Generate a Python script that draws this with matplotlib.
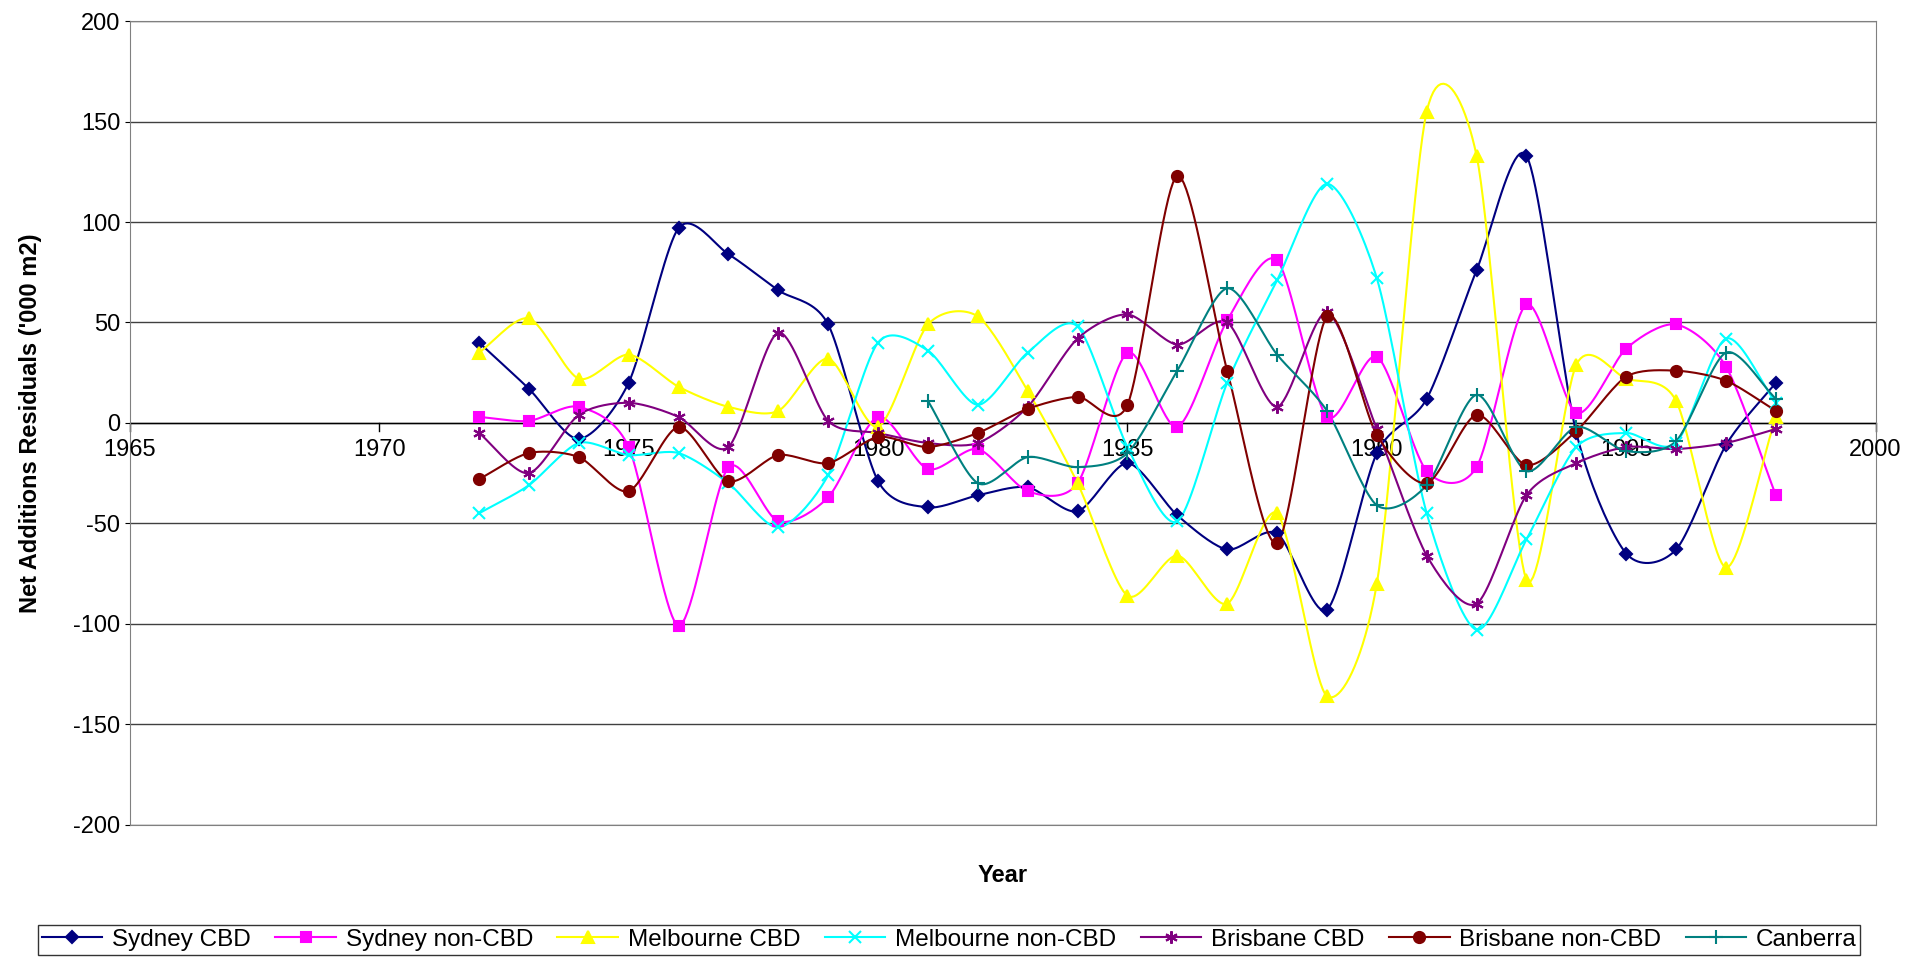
import numpy as np
import matplotlib
matplotlib.use('Agg')
import matplotlib.pyplot as plt

plt.rcParams['font.family'] = ['Liberation Sans', 'DejaVu Sans']
plt.rcParams['axes.unicode_minus'] = False

years = np.arange(1972, 1999)
syd_cbd = [40, 17, -8, 20, 97, 84, 66, 49, -29, -42, -36, -32, -44, -20, -46, -63, -55, -93, -15, 12, 76, 133, -5, -65, -63, -11, 20]
syd_non = [3, 1, 8, -12, -101, -22, -49, -37, 3, -23, -13, -34, -30, 35, -2, 51, 81, 3, 33, -24, -22, 59, 5, 37, 49, 28, -36]
mel_cbd = [35, 52, 22, 34, 18, 8, 6, 32, -2, 49, 53, 16, -30, -86, -66, -90, -45, -136, -80, 155, 133, -78, 29, 22, 11, -72, 3]
mel_non = [-45, -31, -10, -16, -15, -30, -52, -26, 40, 36, 9, 35, 48, -12, -49, 20, 71, 119, 72, -45, -103, -58, -12, -5, -10, 42, 10]
bri_cbd = [-5, -25, 4, 10, 3, -12, 45, 1, -5, -10, -10, 8, 42, 54, 39, 50, 8, 55, -3, -66, -90, -36, -20, -12, -13, -10, -3]
bri_non = [-28, -15, -17, -34, -2, -29, -16, -20, -7, -12, -5, 7, 13, 9, 123, 26, -60, 53, -6, -30, 4, -21, -4, 23, 26, 21, 6]
can_years = np.arange(1981, 1999)
canberra = [11, -30, -17, -22, -15, 26, 67, 34, 6, -41, -31, 14, -24, -2, -14, -9, 35, 12]

series = [
    ('Sydney CBD', years, syd_cbd, '#000080', 'D', 6),
    ('Sydney non-CBD', years, syd_non, '#ff00ff', 's', 7),
    ('Melbourne CBD', years, mel_cbd, '#ffff00', '^', 8),
    ('Melbourne non-CBD', years, mel_non, '#00ffff', 'x', 8),
    ('Brisbane CBD', years, bri_cbd, '#800080', (6, 2, 0), 9),
    ('Brisbane non-CBD', years, bri_non, '#800000', 'o', 8),
    ('Canberra', can_years, canberra, '#008080', '+', 10),
]


def smooth(x, y, n=20, k=0.8):
    # Catmull-Rom style curve through the points, like Excel's smoothed line
    x = np.asarray(x, float)
    y = np.asarray(y, float)
    px = np.concatenate([[2 * x[0] - x[1]], x, [2 * x[-1] - x[-2]]])
    py = np.concatenate([[2 * y[0] - y[1]], y, [2 * y[-1] - y[-2]]])
    t = np.linspace(0, 1, n, endpoint=False)
    h00 = 2 * t**3 - 3 * t**2 + 1
    h10 = t**3 - 2 * t**2 + t
    h01 = -2 * t**3 + 3 * t**2
    h11 = t**3 - t**2
    xs, ys = [], []
    for i in range(1, len(px) - 2):
        for p, out in ((px, xs), (py, ys)):
            m1 = k * 0.5 * (p[i + 1] - p[i - 1])
            m2 = k * 0.5 * (p[i + 2] - p[i])
            out.append(h00 * p[i] + h10 * m1 + h01 * p[i + 1] + h11 * m2)
    xs.append([x[-1]])
    ys.append([y[-1]])
    return np.concatenate(xs), np.concatenate(ys)


fig = plt.figure(figsize=(19.1, 9.59), dpi=100)
ax = fig.add_axes([0.068, 0.14, 0.914, 0.838])
ax.set_xlim(1965, 2000)
ax.set_ylim(-200, 200)
ax.set_yticks(range(-200, 201, 50))
ax.yaxis.grid(True, color='#404040', lw=1)
ax.set_axisbelow(True)
ax.axhline(0, color='black', lw=1)
ax.set_xticks([])
for yr in range(1965, 2001, 5):
    ax.plot([yr, yr], [0, -4], color='black', lw=1, clip_on=False)
    ax.text(yr, -8, str(yr), ha='center', va='top', fontsize=17)
for s in ax.spines.values():
    s.set_color('#808080')
ax.tick_params(axis='y', labelsize=17)

handles = []
for name, x, y, c, m, ms in series:
    sx, sy = smooth(x, y)
    ax.plot(sx, sy, color=c, lw=1.5, zorder=3)
    ax.plot(x, y, ls='none', marker=m, color=c, ms=ms, mew=1.5, zorder=4)
    h, = ax.plot([], [], color=c, marker=m, ms=ms, mew=1.5, lw=1.5)
    handles.append(h)

ax.set_ylabel("Net Additions Residuals ('000 m2)", fontsize=17, fontweight='bold', labelpad=22)
ax.text(0.5, -0.063, 'Year', transform=ax.transAxes, ha='center', va='center',
        fontsize=17, fontweight='bold')
fig.legend(handles, [s[0] for s in series], loc='lower center', ncol=7,
           bbox_to_anchor=(0.497, -0.008), fontsize=17.5, frameon=True, fancybox=False,
           edgecolor='black', handlelength=2.5, columnspacing=1.0, handletextpad=0.4,
           borderpad=0.15)

fig.savefig('out.png', dpi=100)
